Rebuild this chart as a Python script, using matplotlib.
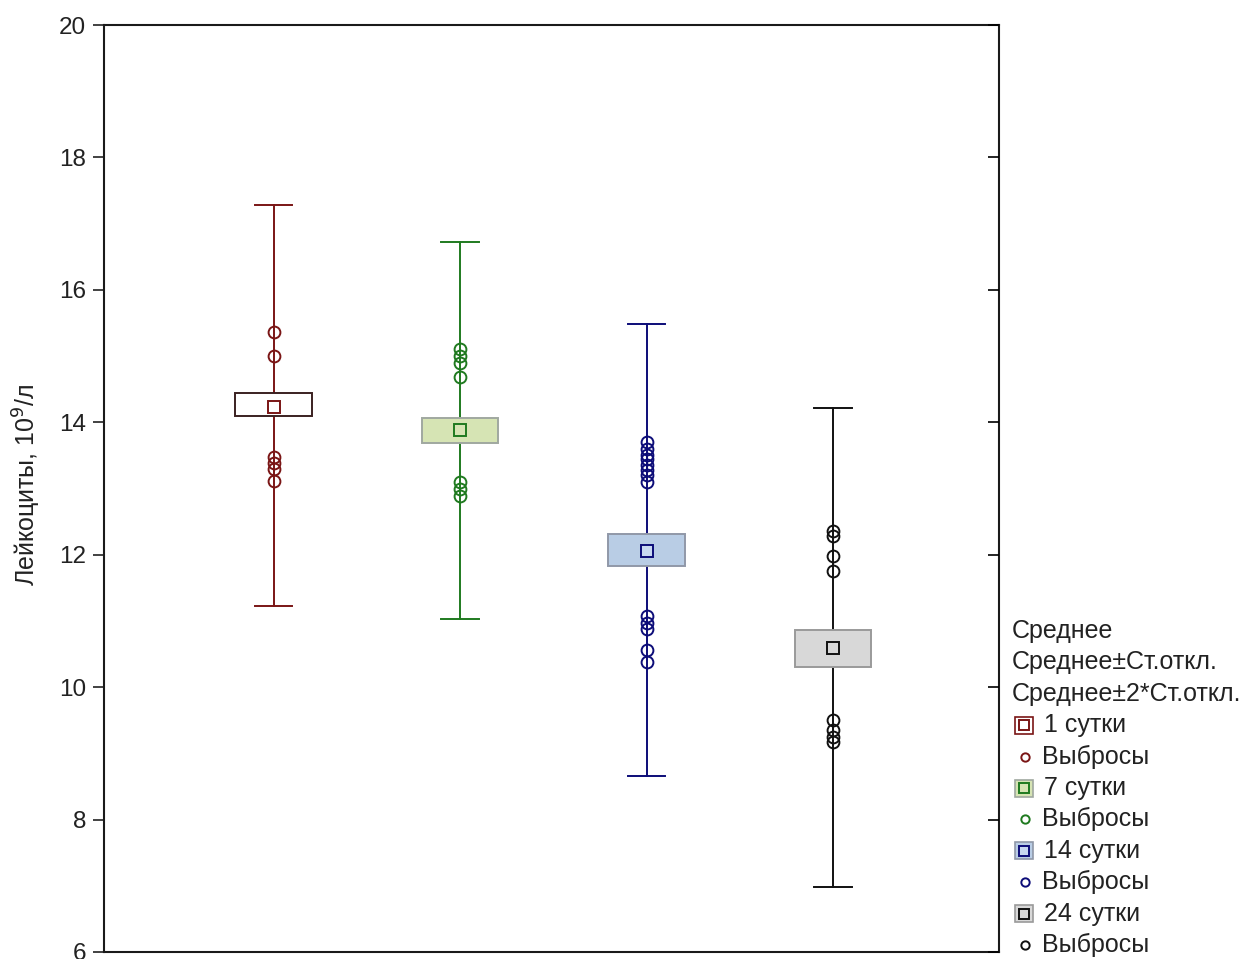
import matplotlib
matplotlib.use("Agg")
import matplotlib.pyplot as plt
from matplotlib.patches import Rectangle
from matplotlib.lines import Line2D

plt.rcParams['font.family'] = ['Liberation Sans', 'DejaVu Sans']

# ---- data ----
groups = ["1 сутки", "7 сутки", "14 сутки", "24 сутки"]
means = [14.23, 13.88, 12.05, 10.59]
box_low = [14.09, 13.68, 11.83, 10.30]
box_high = [14.44, 14.06, 12.31, 10.86]
whisk_low = [11.22, 11.03, 8.66, 6.98]
whisk_high = [17.28, 16.73, 15.49, 14.21]
outliers = [
    [15.36, 15.00, 13.47, 13.38, 13.30, 13.12],
    [15.10, 15.00, 14.90, 14.68, 13.10, 13.00, 12.88],
    [13.70, 13.60, 13.50, 13.45, 13.35, 13.28, 13.20, 13.10, 11.08, 10.97, 10.88, 10.56, 10.38],
    [12.36, 12.28, 11.98, 11.75, 9.50, 9.35, 9.25, 9.17],
]
header_lines = ["Среднее", "Среднее±Ст.откл.", "Среднее±2*Ст.откл."]
outlier_label = "Выбросы"
y_ticks = [6, 8, 10, 12, 14, 16, 18, 20]
y_label = "Лейкоциты, 10$^{9}$/л"

# ---- styles ----
line_colors = ["#7a1515", "#1f7a1f", "#0c0c78", "#111111"]
fill_colors = ["#ffffff", "#d6e4b4", "#b9cde5", "#d8d8d8"]
box_edges = ["#3a2020", "#a0a8a0", "#9098a8", "#9a9a9a"]
mean_face = ["#ffffff", "#d6e4b4", "#c8d8f0", "#d8d8d8"]
text_color = '#222222'

W, H = 1252, 959
fig = plt.figure(figsize=(W / 100, H / 100), dpi=100)
ax = fig.add_axes([104 / W, 1 - 952 / H, (999 - 104) / W, (952 - 25) / H])

xs = list(range(1, len(groups) + 1))
box_w = 0.41
cap_w = 0.20
for i, x in enumerate(xs):
    c = line_colors[i]
    ax.plot([x, x], [whisk_low[i], whisk_high[i]], color=c, lw=1.4, zorder=2)
    for yv in (whisk_low[i], whisk_high[i]):
        ax.plot([x - cap_w / 2, x + cap_w / 2], [yv, yv], color=c, lw=1.4, zorder=2)
    ax.add_patch(Rectangle((x - box_w / 2, box_low[i]), box_w, box_high[i] - box_low[i],
                           facecolor=fill_colors[i], edgecolor=box_edges[i], lw=1.4, zorder=3))
    ax.plot([x], [means[i]], marker='s', ms=8, mfc=mean_face[i], mec=c, mew=1.4, zorder=4)
    ax.plot([x] * len(outliers[i]), outliers[i], ls='none', marker='o', ms=8.5,
            mfc='none', mec=c, mew=1.4, zorder=4)

ax.set_xlim(0.09, 4.89)
ax.set_ylim(6, 20)
ax.set_yticks(y_ticks)
ax.set_xticks([])
ax.tick_params(axis='y', direction='out', length=8, width=1.2, labelsize=17.5, pad=5,
               colors=text_color)
for s in ax.spines.values():
    s.set_linewidth(1.5)
    s.set_color('#1a1a1a')

ax2 = ax.twinx()
ax2.set_ylim(6, 20)
ax2.set_yticks(y_ticks)
ax2.tick_params(axis='y', direction='in', length=8, width=1.2, labelright=False)
ax2.set_xticks([])
for s in ax2.spines.values():
    s.set_visible(False)

fig.text(27 / W, 1 - 485 / H, y_label, rotation=90, ha='center', va='center',
         fontsize=18, color=text_color)

# ---- legend (drawn manually, outside axes) ----
fs = 18
row_y = [631 + k * 31.4 for k in range(11)]
def fy(py):
    return 1 - py / H

for k, t in enumerate(header_lines):
    fig.text(1012 / W, fy(row_y[k]), t, ha='left', va='center', fontsize=fs, color=text_color)

for i, g in enumerate(groups):
    r1 = row_y[3 + 2 * i]
    r2 = row_y[4 + 2 * i]
    sq = 17
    fig.add_artist(Rectangle(((1024 - sq / 2) / W, fy(r1 + sq / 2)), sq / W, sq / H,
                             transform=fig.transFigure, facecolor=fill_colors[i],
                             edgecolor=box_edges[i] if i else line_colors[i], lw=1.2))
    fig.add_artist(Line2D([1024 / W], [fy(r1)], transform=fig.transFigure, marker='s', ms=6.5,
                          mfc=mean_face[i], mec=line_colors[i], mew=1.4, ls='none'))
    fig.text(1044 / W, fy(r1), g, ha='left', va='center', fontsize=fs, color=text_color)
    fig.add_artist(Line2D([1025 / W], [fy(r2)], transform=fig.transFigure, marker='o', ms=6,
                          mfc='none', mec=line_colors[i], mew=1.4, ls='none'))
    fig.text(1042 / W, fy(r2), outlier_label, ha='left', va='center', fontsize=fs, color=text_color)

fig.savefig("out.png", dpi=100, facecolor='white')
